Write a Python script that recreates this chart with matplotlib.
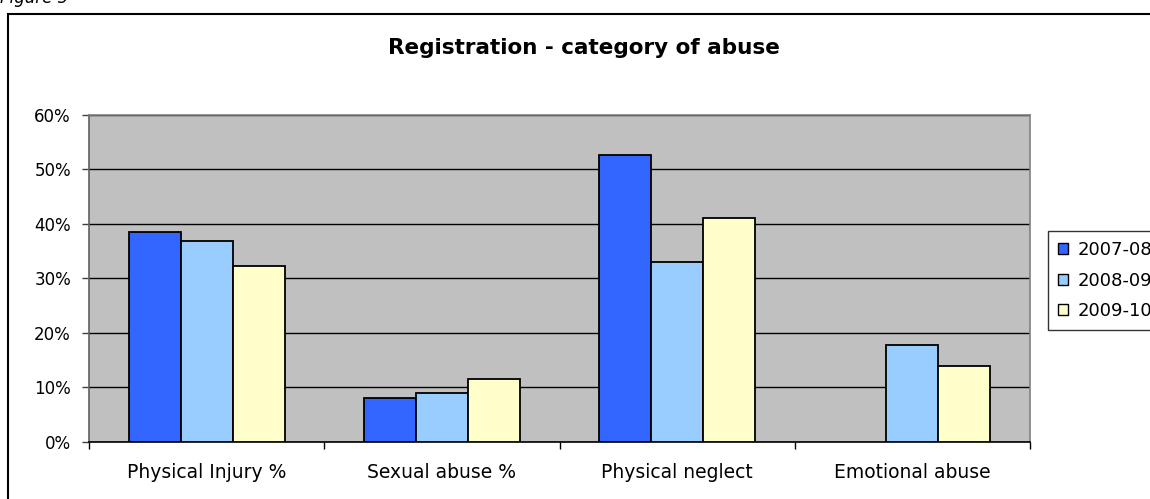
import matplotlib
matplotlib.use("Agg")
import matplotlib.pyplot as plt
import numpy as np
from matplotlib.patches import Patch, Rectangle
from matplotlib.ticker import PercentFormatter

plt.rcParams['font.family'] = ['DejaVu Sans']

categories = ["Physical Injury %", "Sexual abuse %", "Physical neglect", "Emotional abuse"]
series_names = ["2007-08", "2008-09", "2009-10"]
v_2007_08 = [38.5, 8.0, 52.6, np.nan]
v_2008_09 = [36.8, 8.9, 33.0, 17.7]
v_2009_10 = [32.2, 11.5, 41.1, 14.0]
colors = ["#3366FF", "#99CCFF", "#FFFFCC"]
yticks = [0, 10, 20, 30, 40, 50, 60]

W, H = 1150, 499
fig = plt.figure(figsize=(W / 100, H / 100), dpi=100)
ax = fig.add_axes([89 / W, 1 - 442 / H, (1030 - 89) / W, (442 - 114.7) / H])
ax.set_facecolor("#C0C0C0")

x = np.arange(len(categories))
bw = 0.221
for j, vals in enumerate([v_2007_08, v_2008_09, v_2009_10]):
    ax.bar(x + (j - 1) * bw, vals, width=bw, color=colors[j], edgecolor="black",
           linewidth=1.3, zorder=3, label=series_names[j])

ax.set_xlim(-0.5, len(categories) - 0.5)
ax.set_ylim(0, 60)
ax.set_yticks(yticks)
ax.yaxis.set_major_formatter(PercentFormatter(decimals=0))
ax.grid(axis="y", color="black", linewidth=1.0, zorder=1)
ax.set_axisbelow(True)

ax.set_xticks(x)
ax.set_xticklabels(categories, fontsize=13.5)
ax.set_xticks(np.arange(-0.5, len(categories), 1.0), minor=True)
ax.tick_params(axis="x", which="major", length=0, pad=15)
ax.tick_params(axis="x", which="minor", length=5, width=1, direction="out", color="black")
ax.tick_params(axis="y", length=5, width=1, direction="out", labelsize=12, pad=8, color="#404040")

for s in ["top", "right"]:
    ax.spines[s].set_color("#808080")
    ax.spines[s].set_linewidth(1.2)
ax.spines["left"].set_color("#606060")
ax.spines["left"].set_linewidth(1.2)
ax.spines["bottom"].set_color("black")
ax.spines["bottom"].set_linewidth(1.2)

fig.text(584 / W, 1 - 48 / H, "Registration - category of abuse", ha="center", va="center",
         fontsize=15.5, fontweight="bold")

fig.text(0.0, 1 - 3 / H, "Figure 5", ha="left", va="baseline", fontsize=12, style="italic")

fig.patches.append(Rectangle((8 / W, -0.05), 1.2, 1 - 14 / H + 0.05, transform=fig.transFigure,
                             fill=False, edgecolor="black", linewidth=1.5, clip_on=False))

handles = [Patch(facecolor=c, edgecolor="black", linewidth=1) for c in colors]
leg = fig.legend(handles, series_names, loc="upper left", bbox_to_anchor=(1048 / W, 1 - 231 / H),
                 frameon=True, fancybox=False, fontsize=13, handlelength=0.55, handleheight=0.55,
                 handletextpad=0.55, labelspacing=0.7, borderpad=0.55, borderaxespad=0)
leg.get_frame().set_edgecolor("black")
leg.get_frame().set_linewidth(1.0)

fig.savefig("out.png", dpi=100)
